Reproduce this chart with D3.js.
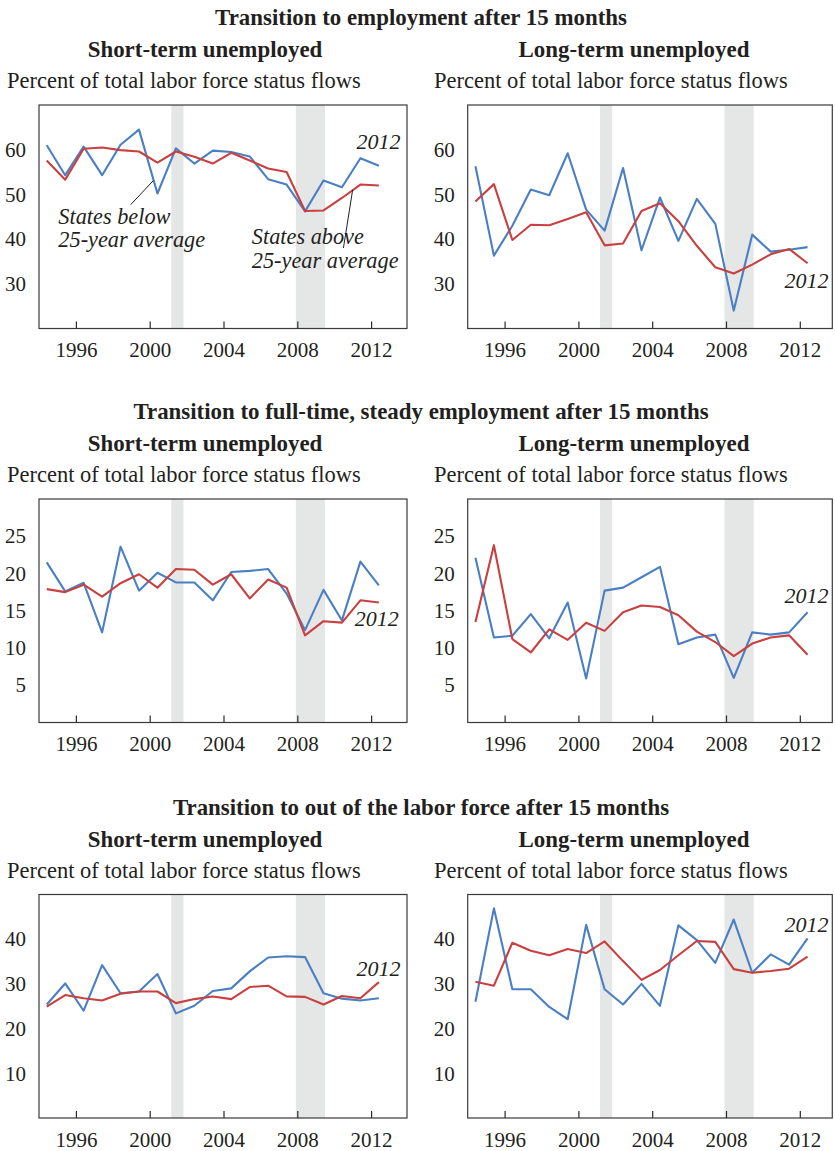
<!DOCTYPE html>
<html><head><meta charset="utf-8">
<script src="https://cdn.jsdelivr.net/npm/d3@7"></script>
<style>body{margin:0;background:#fff}svg text{font-family:"Liberation Serif","Times New Roman",serif;fill:#231f20}</style>
</head><body><svg id="c" width="835" height="1151"></svg>
<script>
// ---------- data ----------
const years = [1994,1995,1996,1997,1998,1999,2000,2001,2002,2003,2004,2005,2006,2007,2008,2009,2010,2011,2012];
const xTicks = [1996,2000,2004,2008,2012];
const recessions = [[2001.17, 2001.83], [2007.92, 2009.5]];

const rowTitles = ["Transition to employment after 15 months",
                   "Transition to full-time, steady employment after 15 months",
                   "Transition to out of the labor force after 15 months"];
const colTitles = ["Short-term unemployed", "Long-term unemployed"];
const unitLabel = "Percent of total labor force status flows";

// blue = states below 25-year average, red = states above
const empShortBelow = [61.0,54.3,60.7,54.3,61.1,64.5,50.2,60.3,56.9,59.8,59.5,58.5,53.4,52.2,46.2,53.1,51.6,58.1,56.4];
const empShortAbove = [57.6,53.3,60.2,60.5,59.9,59.6,57.1,59.6,58.4,56.9,59.3,57.6,55.8,55.0,46.3,46.4,49.2,52.2,52.0];
const empLongBelow  = [56.3,36.3,43.0,51.1,49.8,59.2,46.6,41.9,55.9,37.5,49.3,39.6,49.0,43.4,24.0,41.0,37.2,37.6,38.2];
const empLongAbove  = [48.4,52.3,39.8,43.2,43.1,44.5,46.0,38.6,39.0,46.3,48.0,44.0,38.5,33.7,32.3,34.3,36.6,37.8,34.6];
const ftShortBelow  = [21.5,17.6,18.75,12.1,23.6,17.7,20.1,18.8,18.8,16.4,20.2,20.35,20.6,17.3,12.4,17.8,13.7,21.6,18.4];
const ftShortAbove  = [17.9,17.5,18.5,16.9,18.7,19.9,18.1,20.6,20.5,18.5,19.9,16.65,19.2,18.1,11.7,13.6,13.4,16.4,16.1];
const ftLongBelow   = [22.1,11.4,11.65,14.55,11.3,16.1,5.9,17.7,18.1,19.5,20.9,10.5,11.4,11.8,6.0,12.1,11.8,12.1,14.8];
const ftLongAbove   = [13.5,23.8,11.2,9.4,12.5,11.1,13.4,12.3,14.8,15.7,15.5,14.4,12.2,10.8,8.9,10.6,11.4,11.7,9.1];
const olfShortBelow = [25.4,30.1,24.0,34.2,27.9,28.3,32.2,23.4,25.1,28.4,29.0,32.8,35.9,36.2,36.0,27.9,26.7,26.3,26.8];
const olfShortAbove = [24.9,27.5,26.8,26.3,27.8,28.3,28.3,25.7,26.6,27.2,26.6,29.3,29.6,27.2,27.1,25.4,27.3,26.8,30.4];
const olfLongBelow  = [26.0,46.9,28.8,28.8,24.85,22.1,43.2,28.8,25.4,30.0,25.1,43.1,39.8,34.7,44.4,32.5,36.6,34.3,40.2];
const olfLongAbove  = [30.5,29.6,39.2,37.4,36.4,37.8,36.9,39.5,35.1,30.9,33.1,36.4,39.6,39.4,33.3,32.5,32.9,33.4,36.1];

const yDomains = [[20,70],[0,30],[0,50]];
const yTicks = [[30,40,50,60],[5,10,15,20,25],[10,20,30,40]];

const panels = [
  {row:0,col:0,below:empShortBelow,above:empShortAbove,lab:[2013.6,60.2]},
  {row:0,col:1,below:empLongBelow, above:empLongAbove, lab:[2013.55,29.1]},
  {row:1,col:0,below:ftShortBelow, above:ftShortAbove, lab:[2013.5,12.9]},
  {row:1,col:1,below:ftLongBelow,  above:ftLongAbove,  lab:[2013.55,16.1]},
  {row:2,col:0,below:olfShortBelow,above:olfShortAbove,lab:[2013.6,31.8]},
  {row:2,col:1,below:olfLongBelow, above:olfLongAbove, lab:[2013.55,41.6]}
];

// ---------- layout ----------
const svg = d3.select("#c");
const rowTop = [105, 499, 894.5];
const plotH = 223.5;
const colX = [39, 467.7];
const boxW = [368, 364.6];
const pxPerYear = 18.45;
const BLUE = "#4a7fc3", RED = "#c8403f", BAND = "#e5e6e6";

rowTitles.forEach((t,r)=>{
  svg.append("text").attr("x",421).attr("y",rowTop[r]-80)
    .attr("text-anchor","middle").attr("font-weight","bold").attr("font-size",22.9).text(t);
  colTitles.forEach((c,ci)=>{
    svg.append("text").attr("x",[205,634][ci]).attr("y",rowTop[r]-48)
      .attr("text-anchor","middle").attr("font-weight","bold").attr("font-size",22.9).text(c);
    svg.append("text").attr("x",[7,434][ci]).attr("y",rowTop[r]-17)
      .attr("font-size",22.5).text(unitLabel);
  });
});

panels.forEach(p=>{
  const x0 = colX[p.col], y0 = rowTop[p.row], w = boxW[p.col];
  const x = d3.scaleLinear().domain([1994,2014]).range([x0, x0+20*pxPerYear]);
  const y = d3.scaleLinear().domain(yDomains[p.row]).range([y0+plotH, y0]);
  const g = svg.append("g");

  g.selectAll("rect.band").data(recessions).join("rect")
    .attr("x",d=>x(d[0])).attr("width",d=>x(d[1])-x(d[0]))
    .attr("y",y0).attr("height",plotH).attr("fill",BAND);

  const line = d3.line().x((d,i)=>x(years[i]+0.42)).y(d=>y(d));
  g.append("path").datum(p.below).attr("d",line).attr("fill","none")
    .attr("stroke",BLUE).attr("stroke-width",2.1).attr("stroke-linejoin","round");
  g.append("path").datum(p.above).attr("d",line).attr("fill","none")
    .attr("stroke",RED).attr("stroke-width",2.1).attr("stroke-linejoin","round");

  // box
  g.append("rect").attr("x",x0).attr("y",y0).attr("width",w).attr("height",plotH)
    .attr("fill","none").attr("stroke","#3a3a3a").attr("stroke-width",1.2);

  // x axis
  const xa = g.append("g").attr("transform",`translate(0,${y0+plotH})`)
    .call(d3.axisBottom(x).tickValues(xTicks).tickSize(-7).tickPadding(14).tickFormat(d3.format("d")));
  xa.select(".domain").remove();
  xa.selectAll("line").attr("stroke","#2a2a2a").attr("stroke-width",1.2);
  xa.selectAll("text").attr("font-size",21).attr("font-family","Liberation Serif").attr("fill","#231f20");

  // y axis labels
  const ya = g.append("g").attr("transform",`translate(${x0},0)`)
    .call(d3.axisLeft(y).tickValues(yTicks[p.row]).tickSize(0).tickPadding(13));
  ya.select(".domain").remove();
  ya.selectAll("text").attr("font-size",21).attr("font-family","Liberation Serif").attr("fill","#231f20");

  g.append("text").attr("x",x(p.lab[0])).attr("y",y(p.lab[1]))
    .attr("text-anchor","end").attr("font-style","italic").attr("font-size",22).text("2012");

  if(p.row===0 && p.col===0){
    // annotations
    g.append("line").attr("x1",x(1998.97)).attr("y1",y(47.7)).attr("x2",x(2000.2)).attr("y2",y(53.1))
      .attr("stroke","#231f20").attr("stroke-width",1);
    g.append("line").attr("x1",x(2010.5)).attr("y1",y(38.0)).attr("x2",x(2011.0)).attr("y2",y(51.0))
      .attr("stroke","#231f20").attr("stroke-width",1);
    const t1 = g.append("text").attr("font-style","italic").attr("font-size",22.3);
    t1.append("tspan").attr("x",x(1995.05)).attr("y",y(43.4)).text("States below");
    t1.append("tspan").attr("x",x(1995.05)).attr("y",y(38.2)).text("25-year average");
    const t2 = g.append("text").attr("font-style","italic").attr("font-size",22.3);
    t2.append("tspan").attr("x",x(2005.535)).attr("y",y(38.8)).text("States above");
    t2.append("tspan").attr("x",x(2005.535)).attr("y",y(33.55)).text("25-year average");
  }
});
</script></body></html>
